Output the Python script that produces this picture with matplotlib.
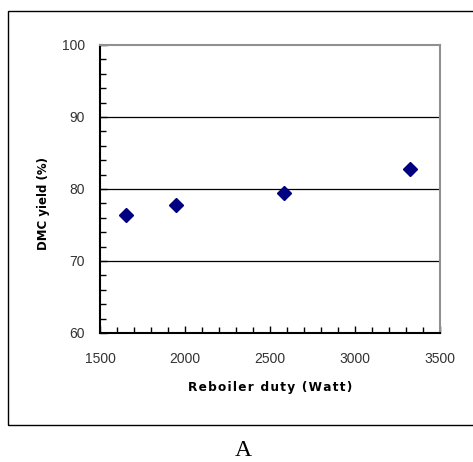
import numpy as np
import matplotlib.pyplot as plt
from matplotlib.patches import Rectangle
from matplotlib.ticker import MultipleLocator

# Reboiler duty vs DMC yield
duty = [1653, 1947, 2582, 3324]
dmc_yield = [76.4, 77.8, 79.4, 82.8]
xticks = [1500, 2000, 2500, 3000, 3500]
yticks = [60, 70, 80, 90, 100]

W, H = 473, 462
fig = plt.figure(figsize=(W / 100, H / 100), dpi=100)

# outer frame around the chart (right side runs off the image)
frame = Rectangle((8 / W, 1 - 425 / H), 1.2, (425 - 11) / H,
                  transform=fig.transFigure, fill=False, edgecolor="black",
                  linewidth=1.0, clip_on=False)
fig.patches.append(frame)

ax = fig.add_axes([100 / W, 1 - 333 / H, 340 / W, 288 / H])
ax.plot(duty, dmc_yield, linestyle="none", marker="D", markersize=6.7,
        color="#000080", zorder=3)

ax.set_xlim(1500, 3500)
ax.set_ylim(60, 100)
ax.set_xticks(xticks)
ax.set_yticks(yticks)
ax.xaxis.set_minor_locator(MultipleLocator(100))
ax.yaxis.set_minor_locator(MultipleLocator(2))
ax.tick_params(which="both", direction="in", color="black", width=1.0)
ax.tick_params(which="major", length=5)
ax.tick_params(which="minor", length=4)
ax.tick_params(axis="x", which="major", pad=14, labelsize=10, labelcolor="#333333")
ax.tick_params(axis="y", which="major", pad=11, labelsize=10, labelcolor="#333333")
ax.tick_params(top=False, right=False)
for lab in ax.get_xticklabels() + ax.get_yticklabels():
    lab.set_family("Liberation Sans")

for y in yticks[1:-1]:
    ax.axhline(y, color="black", linewidth=0.9, zorder=1)

ax.spines["left"].set_linewidth(1.5)
ax.spines["bottom"].set_linewidth(1.5)
ax.spines["top"].set_color("#909090")
ax.spines["right"].set_color("#909090")
ax.spines["top"].set_linewidth(1.5)
ax.spines["right"].set_linewidth(1.5)

xlabel = "\u200a".join("Reboiler duty (Watt)")
fig.text(270 / W, 1 - 387 / H, xlabel, ha="center", va="center",
         fontsize=8.7, fontweight="bold")
fig.text(43 / W, 1 - 203 / H, "DMC yield (%)", rotation=90,
         ha="center", va="center", fontsize=8.5, fontweight="bold")
fig.text(243 / W, 1 - 451 / H, "A", ha="center", va="center",
         fontsize=17, family="Liberation Serif")

fig.savefig("out.png", dpi=100)
